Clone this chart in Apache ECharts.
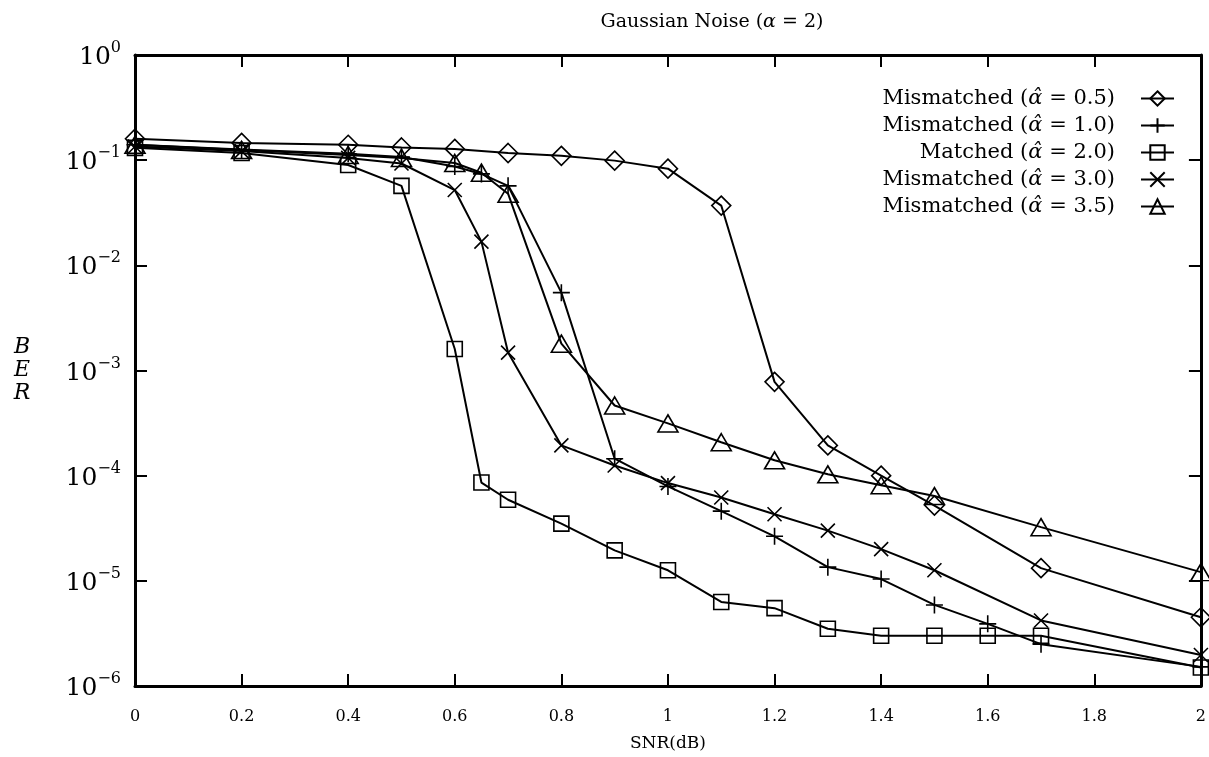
<!doctype html>
<html>
<head>
    <meta charset="utf-8">
    <title>Gaussian Noise BER</title>
    <script type="text/javascript" src="https://cdn.jsdelivr.net/npm/echarts@6/dist/echarts.min.js"></script>
    <style>
        html, body { margin: 0; padding: 0; background: #fff; }
        #container { width: 1209px; height: 757px; }
    </style>
</head>
<body>
<div id="container"></div>
<script type="text/javascript">
    // SNR (dB) points per curve and the BER
    var snr05 = [0, 0.2, 0.4, 0.5, 0.6, 0.7, 0.8, 0.9, 1.0, 1.1, 1.2, 1.3, 1.4, 1.5, 1.7, 2.0];
    var ber05 = [0.16, 0.146, 0.14, 0.132, 0.128, 0.117, 0.11, 0.099, 0.083, 0.037, 7.8e-4, 1.94e-4, 1.0e-4, 5.2e-5, 1.32e-5, 4.5e-6];

    var snr10 = [0, 0.2, 0.4, 0.5, 0.6, 0.65, 0.7, 0.8, 0.9, 1.0, 1.1, 1.2, 1.3, 1.4, 1.5, 1.6, 1.7, 2.0];
    var ber10 = [0.14, 0.126, 0.115, 0.107, 0.087, 0.074, 0.057, 5.5e-3, 1.45e-4, 7.9e-5, 4.6e-5, 2.65e-5, 1.35e-5, 1.04e-5, 5.9e-6, 3.9e-6, 2.5e-6, 1.52e-6];

    var snr20 = [0, 0.2, 0.4, 0.5, 0.6, 0.65, 0.7, 0.8, 0.9, 1.0, 1.1, 1.2, 1.3, 1.4, 1.5, 1.6, 1.7, 2.0];
    var ber20 = [0.131, 0.117, 0.09, 0.057, 1.6e-3, 8.6e-5, 5.9e-5, 3.5e-5, 1.95e-5, 1.26e-5, 6.3e-6, 5.5e-6, 3.5e-6, 3.0e-6, 3.0e-6, 3.0e-6, 3.0e-6, 1.5e-6];

    var snr30 = [0, 0.2, 0.4, 0.5, 0.6, 0.65, 0.7, 0.8, 0.9, 1.0, 1.1, 1.2, 1.3, 1.4, 1.5, 1.7, 2.0];
    var ber30 = [0.135, 0.122, 0.105, 0.093, 0.052, 0.0168, 1.48e-3, 1.94e-4, 1.25e-4, 8.5e-5, 6.2e-5, 4.3e-5, 3.0e-5, 2.0e-5, 1.26e-5, 4.2e-6, 1.97e-6];

    var snr35 = [0, 0.2, 0.4, 0.5, 0.6, 0.65, 0.7, 0.8, 0.9, 1.0, 1.1, 1.2, 1.3, 1.4, 1.5, 1.7, 2.0];
    var ber35 = [0.14, 0.125, 0.112, 0.105, 0.094, 0.076, 0.048, 1.8e-3, 4.65e-4, 3.14e-4, 2.08e-4, 1.4e-4, 1.03e-4, 8.1e-5, 6.4e-5, 3.24e-5, 1.21e-5];

    var names = ['Mismatched (α̂ = 0.5)', 'Mismatched (α̂ = 1.0)', 'Matched (α̂ = 2.0)', 'Mismatched (α̂ = 3.0)', 'Mismatched (α̂ = 3.5)'];

    var serif = 'DejaVu Serif';

    function pairs(xs, ys) {
        var out = [];
        for (var i = 0; i < xs.length; i++) out.push([xs[i], ys[i]]);
        return out;
    }

    function line(name, xs, ys, symbol, size) {
        return {
            name: name,
            type: 'line',
            xAxisIndex: 0,
            yAxisIndex: 0,
            data: pairs(xs, ys),
            symbol: symbol,
            symbolSize: size,
            showAllSymbol: true,
            silent: true,
            lineStyle: {color: '#000', width: 2},
            itemStyle: {color: 'rgba(0,0,0,0)', borderColor: '#000', borderWidth: 1.6},
            emphasis: {disabled: true}
        };
    }

    var dom = document.getElementById("container");
    var myChart = echarts.init(dom);

    var tickStyle = {show: true, inside: true, length: 12, lineStyle: {color: '#000', width: 2}};
    var frame = {show: true, onZero: false, lineStyle: {color: '#000', width: 3}};

    var option = {
        animation: false,
        backgroundColor: '#fff',
        title: {
            text: 'Gaussian Noise ({a|α} = 2)',
            left: 707,
            top: 8,
            textAlign: 'center',
            textStyle: {
                fontFamily: serif, fontSize: 19, fontWeight: 'normal', color: '#000',
                rich: {a: {fontFamily: serif, fontSize: 19, fontStyle: 'italic', color: '#000'}}
            }
        },
        legend: {
            orient: 'vertical',
            align: 'right',
            right: 34,
            top: 88,
            padding: 0,
            itemWidth: 33,
            itemHeight: 18,
            itemGap: 6,
            selectedMode: false,
            data: names,
            formatter: function (n) {
                return n.replace('α̂', '{a|α̂}');
            },
            textStyle: {
                fontFamily: serif, fontSize: 21, color: '#000', lineHeight: 18,
                padding: [0, 21, 0, 0],
                rich: {a: {fontFamily: serif, fontSize: 21, fontStyle: 'italic', color: '#000', lineHeight: 18}}
            }
        },
        grid: {left: 135, right: 8, top: 55, bottom: 70},
        xAxis: [{
            type: 'value',
            min: 0,
            max: 2,
            interval: 0.2,
            position: 'bottom',
            name: 'SNR(dB)',
            nameLocation: 'middle',
            nameGap: 49,
            nameTextStyle: {fontFamily: serif, fontSize: 17, color: '#000'},
            axisLine: frame,
            axisTick: tickStyle,
            axisLabel: {fontFamily: serif, fontSize: 16, color: '#000', margin: 23},
            splitLine: {show: false}
        }, {
            type: 'value',
            min: 0,
            max: 2,
            interval: 0.2,
            position: 'top',
            axisLine: frame,
            axisTick: tickStyle,
            axisLabel: {show: false},
            splitLine: {show: false}
        }],
        yAxis: [{
            type: 'log',
            logBase: 10,
            min: 1e-6,
            max: 1,
            splitNumber: 6,
            position: 'left',
            name: 'B\nE\nR',
            nameLocation: 'middle',
            nameGap: 113,
            nameRotate: 0,
            nameTextStyle: {
                fontFamily: serif, fontSize: 22, fontStyle: 'italic', color: '#000',
                lineHeight: 23, align: 'center', verticalAlign: 'middle'
            },
            axisLine: frame,
            axisTick: tickStyle,
            axisLabel: {
                margin: 14,
                formatter: function (v) {
                    var e = Math.round(Math.log10(v));
                    return '{b|10}{s|' + (e === 0 ? '0' : '−' + (-e)) + '}';
                },
                rich: {
                    b: {fontFamily: serif, fontSize: 25, color: '#000', lineHeight: 30, verticalAlign: 'bottom'},
                    s: {fontFamily: serif, fontSize: 16, color: '#000', lineHeight: 30, verticalAlign: 'top'}
                }
            },
            splitLine: {show: false},
            minorTick: {show: false}
        }, {
            type: 'log',
            logBase: 10,
            min: 1e-6,
            max: 1,
            splitNumber: 6,
            position: 'right',
            axisLine: frame,
            axisTick: tickStyle,
            axisLabel: {show: false},
            splitLine: {show: false}
        }],
        series: [
            line(names[0], snr05, ber05, 'diamond', [19, 19]),
            line(names[1], snr10, ber10, 'path://M0,8L16,8M8,0L8,16', [17, 17]),
            line(names[2], snr20, ber20, 'rect', [15, 15]),
            line(names[3], snr30, ber30, 'path://M0,0L14,14M14,0L0,14', [14, 14]),
            line(names[4], snr35, ber35, 'triangle', [20, 17])
        ]
    };

    if (option && typeof option === "object") {
        myChart.setOption(option, true);
    }
</script>
</body>
</html>
